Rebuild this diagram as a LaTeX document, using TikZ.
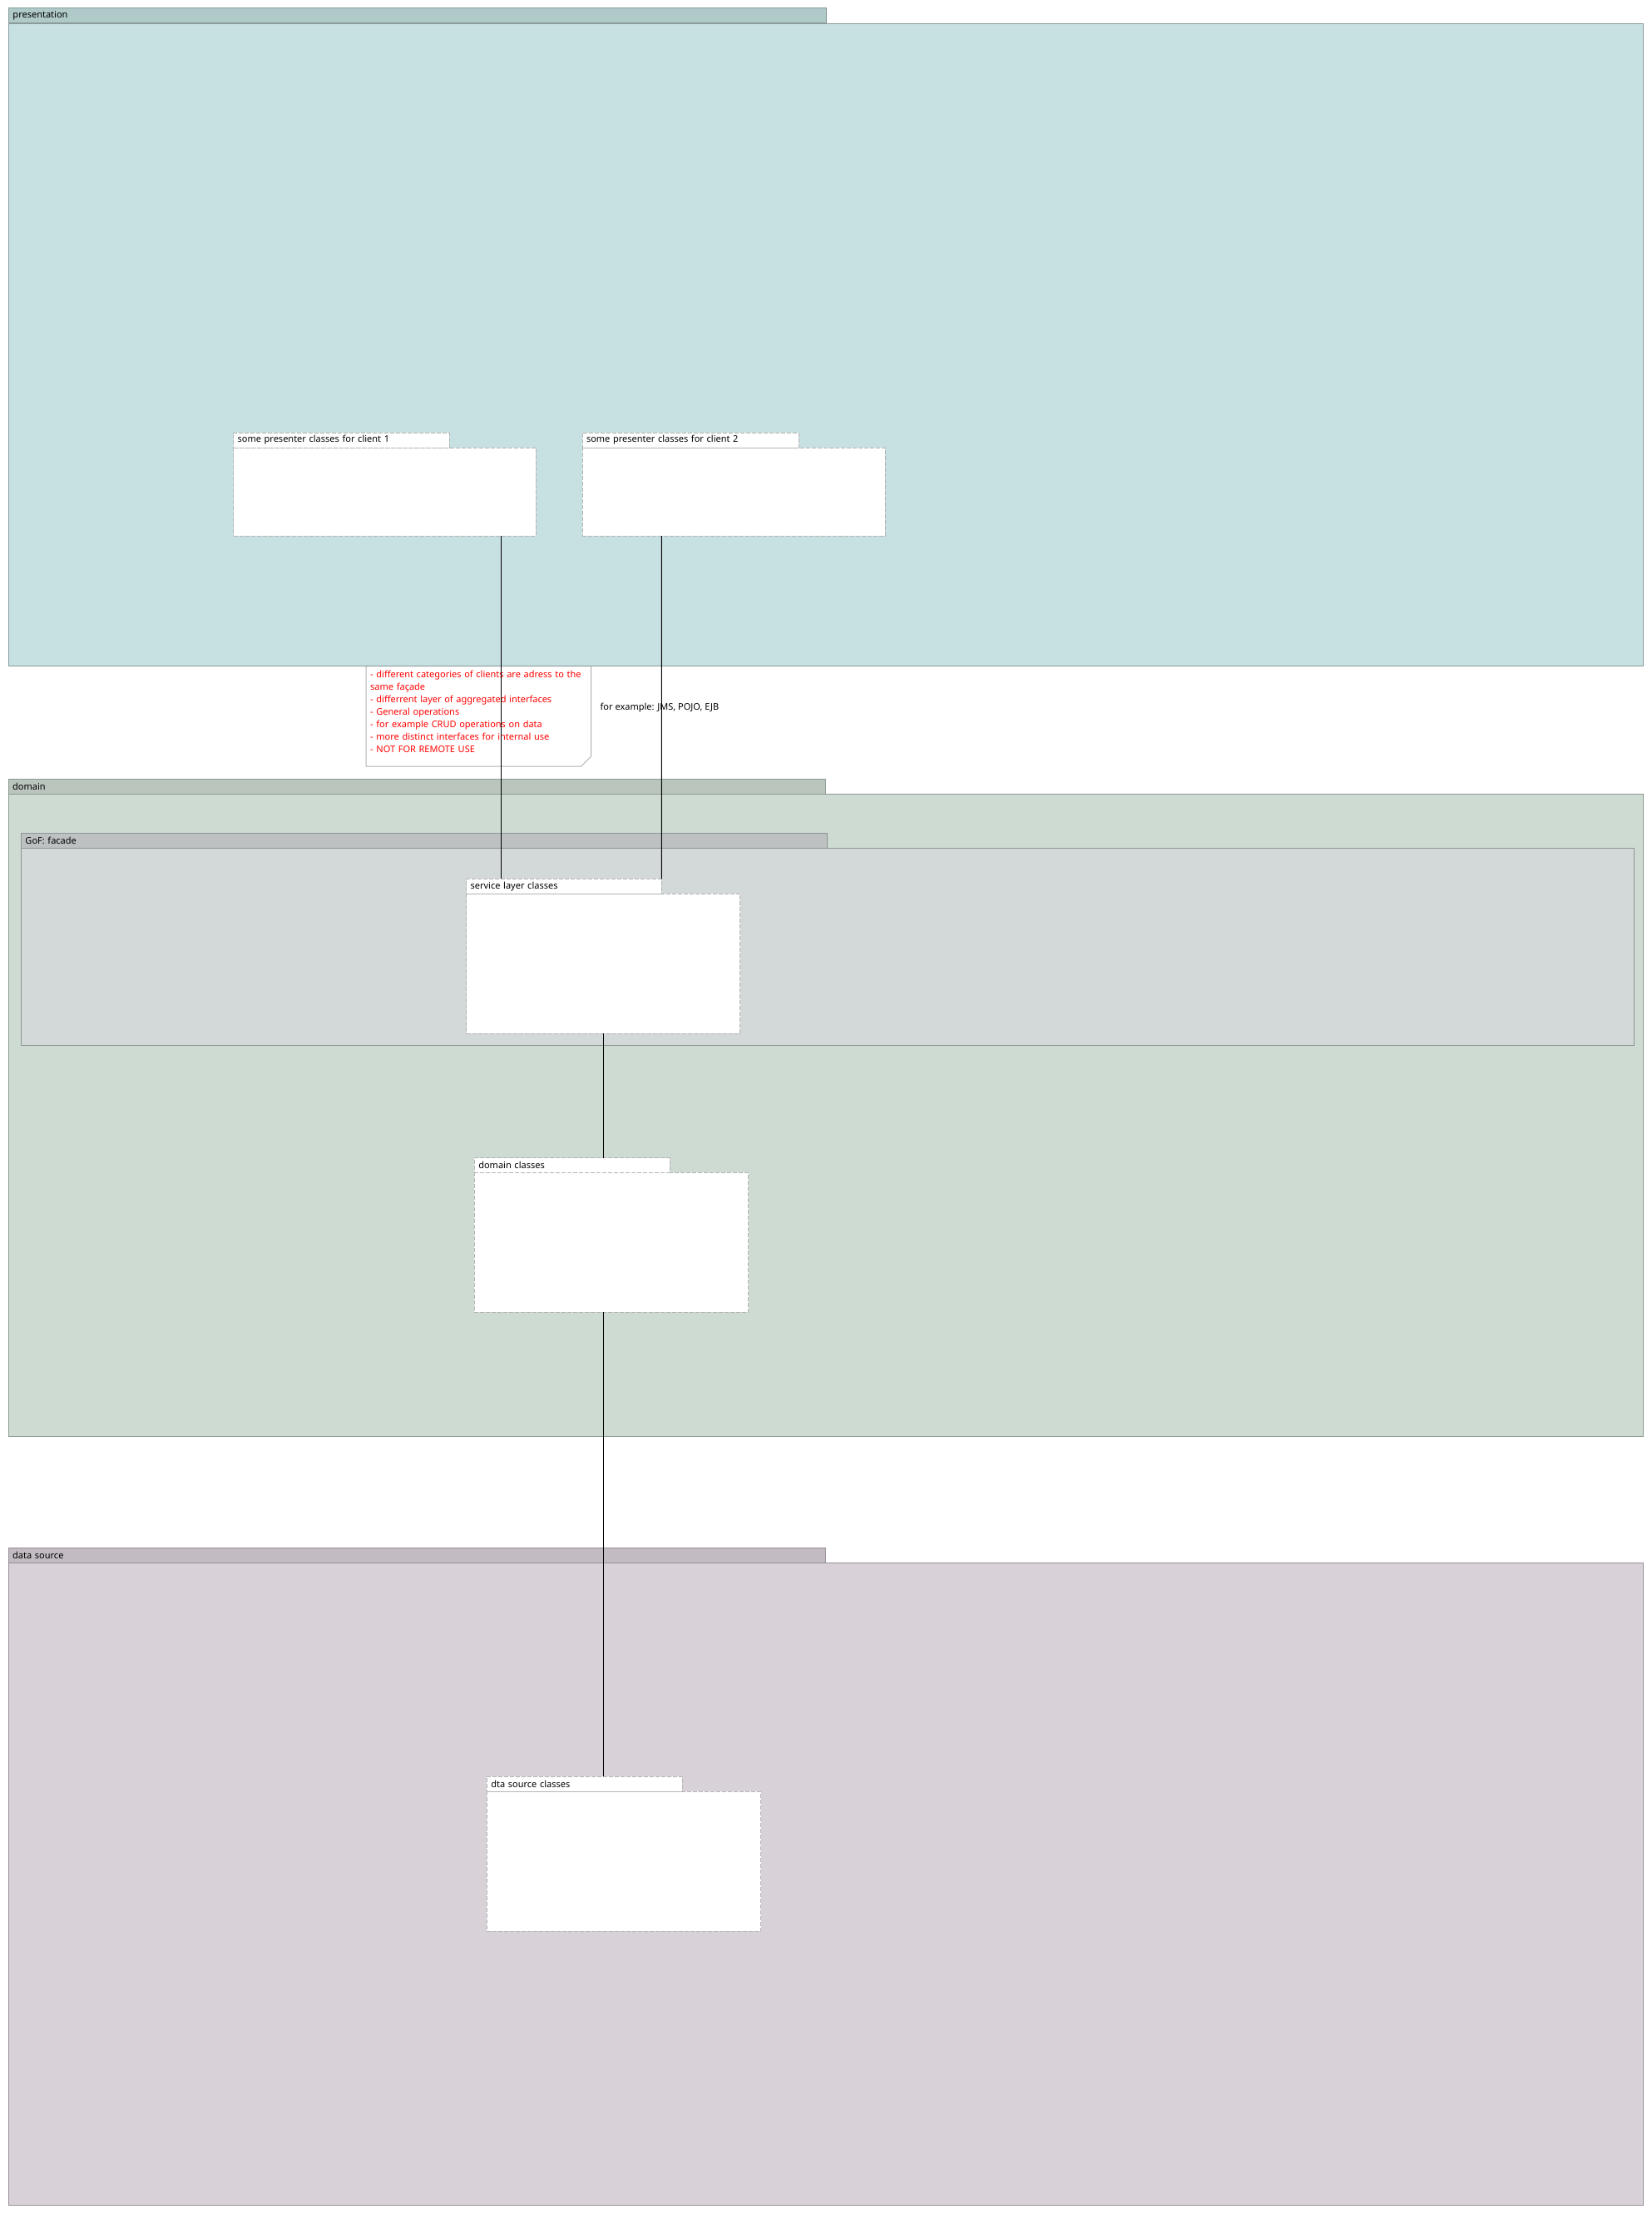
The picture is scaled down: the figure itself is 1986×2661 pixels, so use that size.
\documentclass[tikz,border=0pt]{standalone}
\usepackage{fontspec}
\setmainfont{Noto Sans}
\definecolor{presbody}{HTML}{C7E0E1}
\definecolor{prestab}{HTML}{B0C9C9}
\definecolor{presline}{HTML}{8A9C9C}
\definecolor{dombody}{HTML}{CEDBD3}
\definecolor{domtab}{HTML}{BAC5BD}
\definecolor{domline}{HTML}{8C9A90}
\definecolor{gofbody}{HTML}{D3D8D9}
\definecolor{goftab}{HTML}{BDC1C2}
\definecolor{gofline}{HTML}{8E9494}
\definecolor{dsbody}{HTML}{D8D1D8}
\definecolor{dstab}{HTML}{C2BBC2}
\definecolor{dsline}{HTML}{988F98}
\definecolor{dashgray}{HTML}{B4B4B4}
\definecolor{notegray}{HTML}{B0B0B0}
\definecolor{notered}{HTML}{FF0000}
\tikzset{
  pkgbody/.style={draw=#1, line width=1pt, rectangle, inner sep=0pt, outer sep=0pt, anchor=north west},
  pkgtab/.style={draw=#1, line width=1pt, rectangle, inner xsep=5pt, inner ysep=0pt, outer sep=0pt,
     anchor=north west, minimum height=18pt, align=left, font=\fontsize{11}{13}\selectfont},
  clsbody/.style={draw=dashgray, fill=white, line width=1pt, dash pattern=on 5pt off 2pt, rectangle,
     inner sep=0pt, outer sep=0pt, anchor=north west},
  clstab/.style={draw=dashgray, fill=white, line width=1pt, dash pattern=on 5pt off 2pt, rectangle,
     inner xsep=5pt, inner ysep=0pt, outer sep=0pt, anchor=north west, minimum height=18pt, align=left,
     font=\fontsize{11}{13}\selectfont},
  conn/.style={draw=black, line width=1pt},
}
\begin{document}
\begin{tikzpicture}[x=1pt, y=-1pt]
\useasboundingbox[fill=white] (0,0) rectangle (1986,2661);

% ---- presentation package
\node[pkgbody=presline, fill=presbody, minimum width=1965.2pt, minimum height=772.6pt] (presbody) at (10.5,28.1) {};
\node[pkgtab=presline, fill=prestab, text width=972.5pt] (prestab) at (10.5,9.8) {presentation};

% ---- domain package
\node[pkgbody=domline, fill=dombody, minimum width=1965.1pt, minimum height=772pt] (dombody) at (10.2,954.3) {};
\node[pkgtab=domline, fill=domtab, text width=972.1pt] (domtab) at (10.2,936.3) {domain};

% ---- GoF facade package
\node[pkgbody=gofline, fill=gofbody, minimum width=1938.8pt, minimum height=236.7pt] (gofbody) at (25.5,1019.3) {};
\node[pkgtab=gofline, fill=goftab, text width=958.8pt] (goftab) at (25.5,1001.3) {GoF: facade};

% ---- data source package
\node[pkgbody=dsline, fill=dsbody, minimum width=1965.5pt, minimum height=772pt] (dsbody) at (10.2,1878.3) {};
\node[pkgtab=dsline, fill=dstab, text width=972.1pt] (dstab) at (10.2,1860.3) {data source};

% ---- note
\coordinate (noteNW) at (440,800.7);
\draw[draw=notegray, fill=white, line width=1pt]
  (noteNW) -- (710.7,800.7) -- (710.7,909) -- (698.7,921) -- (440,921) -- cycle;
\node[anchor=north west, inner sep=0pt, text width=262pt, align=left, text=notered,
      font=\fontsize{11}{15}\selectfont] (note) at (445,806)
  {- different categories of clients are adress to the same façade\\
   - differrent layer of aggregated interfaces\\
   - General operations\\
   - for example CRUD operations on data\\
   - more distinct interfaces for internal use\\
   - NOT FOR REMOTE USE};
\draw[draw=presline, line width=1pt] (presbody.south west) -- (presbody.south east);

\node[anchor=west, inner sep=0pt, font=\fontsize{11}{13}\selectfont] (proto) at (721.5,851) {for example: JMS, POJO, EJB};

% ---- class packages
\node[clsbody, minimum width=363.4pt, minimum height=106pt] (c1body) at (280.6,538) {};
\node[clstab, text width=249.4pt] (c1tab) at (280.6,520) {some presenter classes for client 1};

\node[clsbody, minimum width=364pt, minimum height=106pt] (c2body) at (700,538) {};
\node[clstab, text width=250pt] (c2tab) at (700,520) {some presenter classes for client 2};

\node[clsbody, minimum width=329.1pt, minimum height=168pt] (svcbody) at (560.6,1074.3) {};
\node[clstab, text width=224.7pt] (svctab) at (560.6,1056.3) {service layer classes};

\node[clsbody, minimum width=329.4pt, minimum height=168pt] (dcbody) at (570.3,1409.3) {};
\node[clstab, text width=225pt] (dctab) at (570.3,1391.5) {domain classes};

\node[clsbody, minimum width=329.4pt, minimum height=168pt] (dsclbody) at (585.3,2153.3) {};
\node[clstab, text width=225pt] (dscltab) at (585.3,2135.3) {dta source classes};

% ---- connectors
\coordinate (x1) at (602.5,0);
\coordinate (x2) at (795.3,0);
\coordinate (x3) at (725.5,0);
\draw[conn] (c1body.south -| x1) -- (svctab.north -| x1);
\draw[conn] (c2body.south -| x2) -- (svctab.north east);
\draw[conn] (svcbody.south -| x3) -- (dctab.north -| x3);
\draw[conn] (dcbody.south -| x3) -- (dscltab.north -| x3);
\end{tikzpicture}
\end{document}
